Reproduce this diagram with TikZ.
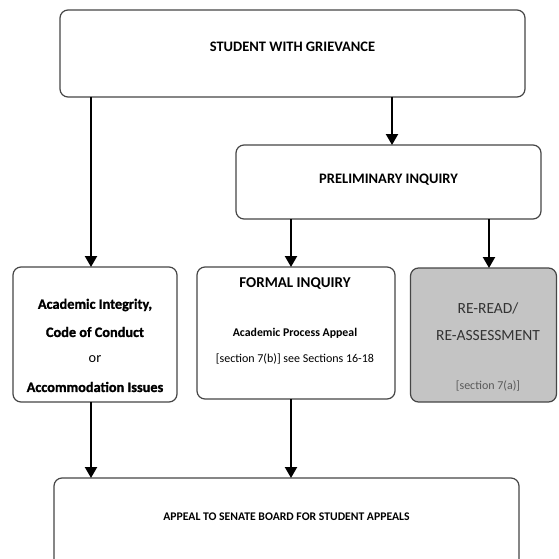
\documentclass[tikz,border=0pt]{standalone}
\usepackage{fontspec}
\setmainfont{Carlito}
\newfontfamily\heavyfont[BoldFeatures={FakeBold=1.2}]{Carlito}
\usetikzlibrary{arrows.meta}
\definecolor{boxline}{RGB}{70,70,70}
\definecolor{greyfill}{RGB}{196,196,196}
\tikzset{
  box/.style={draw=boxline, line width=1.2pt, rounded corners=8pt, fill=white, inner sep=0pt, outer sep=0pt},
  arr/.style={line width=2.2pt, -{Triangle[length=11pt,width=12pt]}},
  txt/.style={inner sep=0pt, align=center},
}
\begin{document}
\begin{tikzpicture}[x=1pt, y=-1pt]
\clip (0,0) rectangle (558,559);
\fill[white] (0,0) rectangle (558,559);
% boxes
\node[box, minimum width=465pt, minimum height=87pt] (top) at (292.5,53.5) {};
\node[box, minimum width=305pt, minimum height=74pt] (prelim) at (388.5,182) {};
\node[box, minimum width=164pt, minimum height=135pt] (left) at (95,334.5) {};
\node[box, minimum width=198pt, minimum height=132pt] (mid) at (296,333) {};
\node[box, fill=greyfill, minimum width=146pt, minimum height=134pt] (right) at (483.5,335) {};
\node[box, minimum width=465pt, minimum height=122pt] (bottom) at (286.5,539) {};
% texts
\node[txt, font=\fontsize{14.5}{16}\selectfont\bfseries] (t1) at (292.5,47) {STUDENT WITH GRIEVANCE};
\node[txt, font=\fontsize{14.5}{16}\selectfont\bfseries] (t2) at (388.5,180) {PRELIMINARY INQUIRY};
\node[txt, font=\fontsize{14.3}{16}\heavyfont\bfseries] (l1) at (95,305) {Academic Integrity,};
\node[txt, font=\fontsize{14.3}{16}\heavyfont\bfseries] (l2) at (95,332) {Code of Conduct};
\node[txt, font=\fontsize{14.3}{16}\selectfont] (l3) at (95,359) {or};
\node[txt, font=\fontsize{14.3}{16}\heavyfont\bfseries] (l4) at (95,387) {Accommodation Issues};
\node[txt, font=\fontsize{15}{17}\selectfont\bfseries] (m1) at (295,284) {FORMAL INQUIRY};
\node[txt, font=\fontsize{11.8}{14}\selectfont\bfseries] (m2) at (295,333) {Academic Process Appeal};
\node[txt, font=\fontsize{12}{14}\selectfont] (m3) at (295,359) {[section 7(b)] see Sections 16-18};
\node[txt, text=black!80, font=\fontsize{15.5}{17}\selectfont] (r1) at (488,308) {RE-READ/};
\node[txt, text=black!80, font=\fontsize{15.5}{17}\selectfont] (r2) at (488,336) {RE-ASSESSMENT};
\node[txt, text=black!65, font=\fontsize{12}{14}\selectfont] (r3) at (488,386) {[section 7(a)]};
\node[txt, font=\fontsize{11.7}{14}\selectfont\bfseries] (b1) at (286.5,517) {APPEAL TO SENATE BOARD FOR STUDENT APPEALS};
% connectors
\draw[arr] ([xshift=3.5pt]prelim.north |- top.south) -- ([xshift=3.5pt]prelim.north);
\draw[arr] ([xshift=-4pt]left.north |- top.south) -- ([xshift=-4pt]left.north);
\draw[arr] ([xshift=-5pt]mid.north |- prelim.south) -- ([xshift=-5pt]mid.north);
\draw[arr] ([xshift=5.5pt]right.north |- prelim.south) -- ([xshift=5.5pt]right.north);
\draw[arr] ([xshift=-4pt]left.south) -- ([xshift=-4pt]left.south |- bottom.north);
\draw[arr] ([xshift=-5pt]mid.south) -- ([xshift=-5pt]mid.south |- bottom.north);
\end{tikzpicture}
\end{document}
